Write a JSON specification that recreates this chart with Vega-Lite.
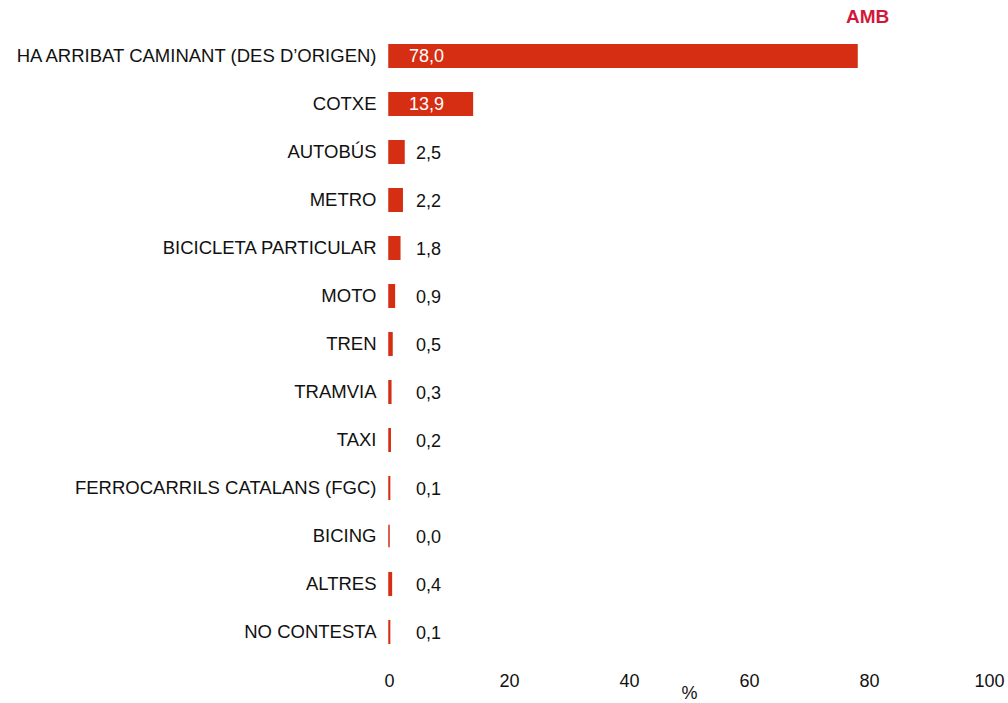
{
  "$schema": "https://vega.github.io/schema/vega-lite/v6.json",
  "width": 600,
  "height": 624,
  "autosize": {"type": "none"},
  "padding": {"left": 389, "top": 32, "right": 19, "bottom": 47},
  "config": {
    "font": "Liberation Sans",
    "view": {"stroke": null},
    "locale": {"number": {"decimal": ",", "thousands": ".", "grouping": [3], "currency": ["", " €"]}}
  },
  "title": {
    "text": "AMB",
    "anchor": "start",
    "frame": "group",
    "dx": 457,
    "offset": 5,
    "fontSize": 19,
    "fontWeight": "bold",
    "color": "#d3173b",
    "font": "Liberation Sans"
  },
  "data": {
    "values": [
      {"mode": "HA ARRIBAT CAMINANT (DES D’ORIGEN)", "value": 78.0},
      {"mode": "COTXE", "value": 13.9},
      {"mode": "AUTOBÚS", "value": 2.5},
      {"mode": "METRO", "value": 2.2},
      {"mode": "BICICLETA PARTICULAR", "value": 1.8},
      {"mode": "MOTO", "value": 0.9},
      {"mode": "TREN", "value": 0.5},
      {"mode": "TRAMVIA", "value": 0.3},
      {"mode": "TAXI", "value": 0.2},
      {"mode": "FERROCARRILS CATALANS (FGC)", "value": 0.1},
      {"mode": "BICING", "value": 0.0},
      {"mode": "ALTRES", "value": 0.4},
      {"mode": "NO CONTESTA", "value": 0.1}
    ]
  },
  "encoding": {
    "y": {
      "field": "mode",
      "type": "nominal",
      "sort": null,
      "scale": {"paddingInner": 0.53, "paddingOuter": 0.265},
      "axis": {
        "title": null,
        "ticks": false,
        "domain": false,
        "labelPadding": 13,
        "labelFontSize": 18.5,
        "labelColor": "#111111",
        "labelFont": "Liberation Sans",
        "labelLimit": 500
      }
    }
  },
  "layer": [
    {
      "mark": {"type": "bar", "color": "#d52e13", "stroke": "#d52e13", "strokeWidth": 1.5},
      "encoding": {
        "x": {
          "field": "value",
          "type": "quantitative",
          "scale": {"domain": [0, 100]},
          "axis": {
            "values": [0, 20, 40, 60, 80, 100],
            "grid": false,
            "ticks": false,
            "domain": false,
            "labelFlush": false,
            "labelFontSize": 18,
            "labelColor": "#111111",
            "labelPadding": 16,
            "labelFont": "Liberation Sans",
            "title": "%",
            "titleFontSize": 18,
            "titleFontWeight": "normal",
            "titleColor": "#111111",
            "titlePadding": -6,
            "titleFont": "Liberation Sans"
          }
        }
      }
    },
    {
      "transform": [{"filter": "datum.value > 10"}],
      "mark": {"type": "text", "align": "left", "baseline": "middle", "dx": 20, "dy": 1, "fontSize": 18, "color": "#ffffff"},
      "encoding": {
        "x": {"datum": 0, "type": "quantitative"},
        "text": {"field": "value", "type": "quantitative", "format": ".1f"}
      }
    },
    {
      "transform": [{"filter": "datum.value <= 10"}],
      "mark": {"type": "text", "align": "left", "baseline": "middle", "dx": 27, "dy": 2, "fontSize": 18, "color": "#111111"},
      "encoding": {
        "x": {"datum": 0, "type": "quantitative"},
        "text": {"field": "value", "type": "quantitative", "format": ".1f"}
      }
    }
  ]
}
